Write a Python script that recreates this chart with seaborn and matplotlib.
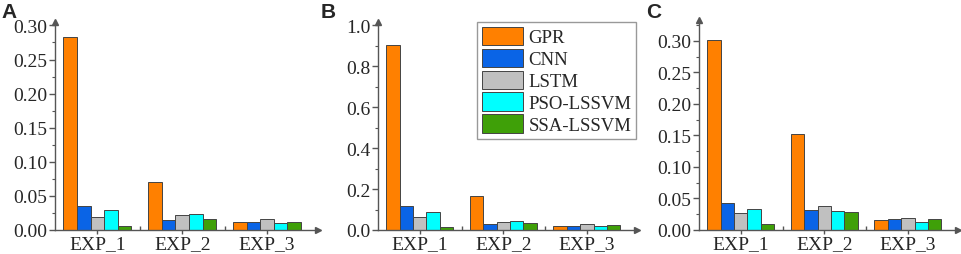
import matplotlib
matplotlib.use("Agg")
import matplotlib.pyplot as plt
from matplotlib.ticker import MultipleLocator, FormatStrFormatter
import seaborn as sns
import pandas as pd

# Values
experiments = ["EXP_1", "EXP_2", "EXP_3"]
models = ["GPR", "CNN", "LSTM", "PSO-LSSVM", "SSA-LSSVM"]

# panel A
a_gpr = [0.283, 0.071, 0.0117]
a_cnn = [0.035, 0.0151, 0.0112]
a_lstm = [0.0185, 0.0215, 0.0156]
a_pso = [0.0288, 0.0234, 0.0102]
a_ssa = [0.0063, 0.0161, 0.0122]

# panel B
b_gpr = [0.902, 0.166, 0.021]
b_cnn = [0.117, 0.031, 0.020]
b_lstm = [0.065, 0.041, 0.031]
b_pso = [0.086, 0.046, 0.020]
b_ssa = [0.016, 0.033, 0.024]

# panel C
c_gpr = [0.302, 0.1516, 0.0153]
c_cnn = [0.0433, 0.0317, 0.018]
c_lstm = [0.0264, 0.0375, 0.0185]
c_pso = [0.0333, 0.0301, 0.0121]
c_ssa = [0.0095, 0.029, 0.018]

colors = ["#FF8000", "#0A64E6", "#C0C0C0", "#00FFFF", "#3FA008"]


def make_df(*series):
    rows = []
    for m, vals in zip(models, series):
        for e, v in zip(experiments, vals):
            rows.append({"exp": e, "model": m, "value": v})
    return pd.DataFrame(rows)


df_a = make_df(a_gpr, a_cnn, a_lstm, a_pso, a_ssa)
df_b = make_df(b_gpr, b_cnn, b_lstm, b_pso, b_ssa)
df_c = make_df(c_gpr, c_cnn, c_lstm, c_pso, c_ssa)

sns.set_style("ticks")
plt.rcParams["font.family"] = ["Liberation Serif", "DejaVu Serif"]
fs = 14

fig = plt.figure(figsize=(9.62, 2.55), dpi=100)
W, H = 962, 255

axis_col = "#555555"

panels = [
    (df_a, "A", 55, 318, 23, 0.305, 0.05, 0.025, "%.2f", 1),
    (df_b, "B", 378, 637, 23, 1.015, 0.2, 0.1, "%.1f", 321),
    (df_c, "C", 699, 958, 21, 0.333, 0.05, 0.025, "%.2f", 646),
]

for df, letter, x0, x1, ytop, ymax, major, minor, fmt, lx in panels:
    ax = fig.add_axes([x0 / W, 1 - 231 / H, (x1 - x0) / W, (231 - ytop) / H])
    sns.barplot(data=df, x="exp", y="value", hue="model", palette=colors,
                saturation=1, width=0.8, edgecolor="#444444", linewidth=0.7,
                ax=ax)
    ax.set_xlim(-0.5, 2.6)
    ax.set_ylim(0, ymax)
    ax.yaxis.set_major_locator(MultipleLocator(major))
    ax.yaxis.set_minor_locator(MultipleLocator(minor))
    ax.yaxis.set_major_formatter(FormatStrFormatter(fmt))
    ax.set_xticks([0, 1, 2])
    ax.set_xticks([0.5, 1.5], minor=True)
    ax.set_xlabel("")
    ax.set_ylabel("")
    for side in ["top", "right"]:
        ax.spines[side].set_visible(False)
    for side in ["left", "bottom"]:
        ax.spines[side].set_color(axis_col)
        ax.spines[side].set_linewidth(1.0)
    ax.tick_params(axis="y", which="major", length=4, width=1, color=axis_col,
                   labelsize=fs, pad=1.5)
    ax.tick_params(axis="y", which="minor", length=2.5, width=0.8, color=axis_col)
    ax.tick_params(axis="x", which="major", length=3, width=1, color=axis_col,
                   labelsize=fs, pad=1)
    ax.tick_params(axis="x", which="minor", length=3, width=1, color=axis_col,
                   direction="in")
    # arrow heads at the axis ends
    ax.plot(1, 0, ">", transform=ax.transAxes, color=axis_col, ms=4, clip_on=False)
    ax.plot(0, 1, "^", transform=ax.transAxes, color=axis_col, ms=4, clip_on=False)

    if letter == "B":
        handles, labels = ax.get_legend_handles_labels()
        ax.legend(handles, labels, loc="upper left",
                  bbox_to_anchor=((477 - x0) / (x1 - x0), 1.0),
                  frameon=True, fancybox=False, edgecolor="#999999",
                  framealpha=1, fontsize=13.5, handlelength=2.2,
                  handleheight=1.15, handletextpad=0.3, labelspacing=0.12,
                  borderpad=0.25, borderaxespad=0)
    else:
        ax.get_legend().remove()

    fig.text(lx / W, 1 - 3 / H, letter, family="Liberation Sans",
             fontweight="bold", fontsize=15, va="top", ha="left")

fig.savefig("out.png", dpi=100)
